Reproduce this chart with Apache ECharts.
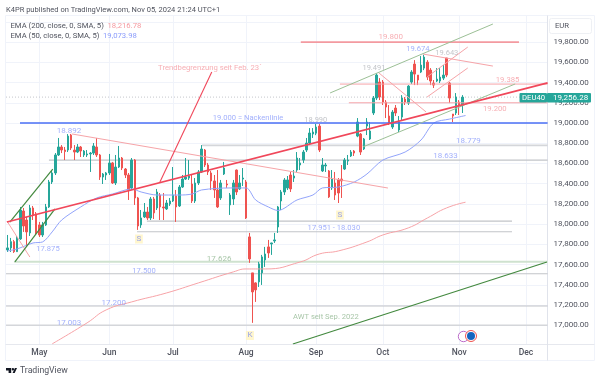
<!DOCTYPE html>
<html><head><meta charset="utf-8">
<style>html,body{margin:0;padding:0;background:#fff}#c{width:600px;height:381px;filter:blur(0.3px)}</style>
<script src="https://cdn.jsdelivr.net/npm/echarts@6/dist/echarts.min.js"></script>
</head><body><div id="c"></div>
<script>
// [open, close, low, high] daily candles
const candles = [
[17745,17765,17725,17893],[17765,17827,17725,17864],[17827,17728,17715,17844],[17728,17864,17725,17883],[17854,18140,17844,18170],
[18130,17982,17923,18160],[18041,17923,17775,18071],[17913,18160,17883,18190],[18160,18091,18041,18180],[18101,17913,17893,18120],
[17992,17893,17873,18022],[17893,17992,17873,18022],[17992,18170,17982,18200],[18170,18417,18160,18437],[18417,18506,18397,18526],
[18506,18684,18486,18703],[18684,18763,18674,18852],[18763,18733,18703,18782],[18733,18718,18634,18763],[18733,18871,18713,18891],
[18881,18753,18733,18892],[18733,18713,18634,18782],[18713,18763,18703,18792],[18763,18723,18664,18773],[18684,18723,18664,18733],
[18684,18694,18664,18733],[18694,18703,18516,18713],[18703,18773,18684,18802],[18763,18684,18664,18852],[18684,18466,18437,18694],
[18466,18496,18397,18506],[18486,18506,18437,18516],[18506,18605,18486,18694],[18605,18407,18397,18615],[18407,18565,18387,18684],
[18565,18654,18555,18773],[18654,18555,18535,18664],[18545,18486,18456,18555],[18486,18338,18239,18506],[18358,18634,18338,18654],
[18634,18259,18190,18644],[18259,17982,17943,18269],[17992,18061,17963,18140],[18071,18120,18061,18209],[18120,18061,18041,18170],
[18061,18249,18041,18269],[18249,18111,18051,18269],[18160,18318,18140,18348],[18288,18170,18041,18308],[18170,18160,18041,18308],
[18150,18209,18140,18239],[18200,18229,18180,18259],[18229,18288,18219,18565],[18279,18170,18022,18338],[18180,18367,18170,18387],
[18367,18446,18358,18486],[18446,18466,18437,18654],[18456,18476,18437,18634],[18397,18229,18209,18486],[18229,18407,18209,18456],
[18407,18516,18387,18535],[18516,18743,18506,18782],[18733,18585,18565,18743],[18585,18516,18486,18605],[18506,18427,18338,18526],
[18427,18338,18259,18486],[18338,18170,18160,18535],[18259,18407,18239,18437],[18496,18555,18486,18615],[18397,18387,18358,18437],
[18190,18288,18091,18308],[18249,18407,18190,18437],[18535,18318,18288,18540],[18348,18407,18338,18486],[18446,18456,18377,18555],
[18417,18061,18051,18437],[17874,17656,17617,17913],[17518,17330,17024,17518],[17419,17350,17231,17425],[17429,17607,17379,17627],
[17518,17676,17399,17696],[17646,17705,17577,17775],[17775,17715,17666,17844],[17804,17814,17696,17816],[17834,17844,17814,17913],
[17972,18170,17913,18180],[18229,18318,18140,18338],[18318,18437,18288,18456],[18358,18437,18338,18476],[18486,18348,18318,18516],
[18456,18476,18417,18535],[18535,18654,18516,18713],[18585,18605,18535,18654],[18634,18713,18605,18733],[18733,18802,18713,18852],
[18802,18901,18782,18950],[18891,18911,18852,18950],[18900,18960,18880,18990],[18970,18733,18713,18990],[18526,18585,18516,18654],
[18575,18585,18516,18605],[18526,18269,18259,18535],[18358,18446,18338,18535],[18407,18288,18239,18516],[18437,18308,18209,18456],
[18446,18427,18259,18585],[18545,18634,18535,18654],[18624,18634,18585,18684],[18674,18713,18664,18733],[18723,18703,18674,18733],
[18871,19010,18860,19049],[18891,18713,18684,18901],[18743,18842,18733,18852],[18970,19010,18881,19049],[18842,18921,18832,19010],
[19099,19247,19079,19267],[19247,19474,19227,19491],[19405,19257,19227,19444],[19405,19207,19178,19425],[19207,19158,19049,19227],
[19069,19000,18980,19178],[18960,19108,18941,19128],[19148,19099,19069,19178],[18931,19010,18911,19069],[19059,19247,19029,19276],
[19237,19207,19178,19257],[19197,19365,19178,19375],[19405,19504,19385,19523],[19583,19484,19375,19622],[19474,19425,19375,19474],
[19504,19573,19494,19662],[19543,19652,19523,19674],[19602,19454,19425,19622],[19523,19415,19375,19543],[19395,19375,19346,19425],
[19415,19434,19405,19543],[19415,19454,19395,19543],[19444,19474,19425,19573],[19643,19474,19454,19643],[19395,19247,19197,19405],
[19089,19069,19010,19089],[19099,19257,19079,19296],[19207,19168,19079,19227],[19178,19256,19099,19276]
];
// moving averages as [bar index, price]
const ema50 = [[0,17735],[3,17755],[8,17814],[11,17824],[14,17923],[17,18041],[23,18170],[28,18259],[33,18298],[39,18348],[42,18318],[47,18288],[54,18288],[58,18298],[61,18338],[70,18358],[75,18358],[78,18239],[82,18170],[85,18135],[91,18239],[96,18288],[99,18358],[104,18367],[109,18417],[113,18496],[118,18634],[125,18713],[130,18832],[134,19000],[139,19039],[144,19074]];
const ema200 = [[14,16816],[25,17024],[31,17152],[39,17231],[50,17320],[60,17419],[71,17528],[75,17557],[81,17557],[92,17626],[98,17705],[104,17735],[113,17824],[118,17893],[126,17963],[132,18061],[138,18160],[144,18217]];

const monthTicks = [10,32,52,75,97,118,142,163];
const monthNames = ['May','Jun','Jul','Aug','Sep','Oct','Nov','Dec'];
const priceTicks = [17000,17200,17400,17600,17800,18000,18200,18400,18600,18800,19000,19200,19400,19600,19800,20000];
const priceShown = priceTicks.slice(0,15);

// drawn lines as [bar1, price1, bar2, price2]
const neckline = [[3.9,19000,169.8,19000]];
const redTrend = [[-0.2,18021,169.8,19397]];
const redArrow = [[47.9,18417,64.2,19504]];
const pinkStrong = [[92.2,19800,160.8,19800]];
const pinkLines = [[20.2,18892,119.6,18357],[104.5,19385,169.8,19385],[107.3,19200,169.8,19200],[-0.2,18031,7,17675],[116.8,19494,131.6,19109],[130.6,19682,152.6,19563],[131.9,19257,144.7,19544],[131.9,19455,144.7,19751]];
const greyLevels = [[13,18633,169.8,18633],[43.8,18030,158.6,18030],[40.7,17925,158.6,17925],[-0.5,17510,169.8,17510],[-0.5,17190,169.8,17190]];
const greyPale = [[61.1,18779,169.8,18779],[-0.5,17000,169.8,17000]];
const greenPale = [[2,17629,169.8,17629]];
const greenDark = [[89.7,16815,169.6,17626],[0.7,18021,14.2,18545],[2.3,17626,14.9,18150]];
const greenSoft = [[101.4,19297,152.6,19979],[111.7,18763,159.6,19386]];
const lastPrice = [[-0.5,19256.28,169.8,19256.28]];

// notes as [bar, price, text]
const blueLarge = [[19.3,18931,'18.892'],[144.9,18837,'18.779'],[137.7,18684,'18.633'],[33.4,17235,'17.200'],[19.3,17042,'17.003']];
const blueSmall = [[75.6,19059,'19.000 = Nackenlinie'],[129,19741,'19.674'],[102.6,17977,'17.951 - 18.030'],[12.7,17769,'17.875'],[42.9,17547,'17.500']];
const pinkLarge = [[120.5,19870,'19.800']];
const pinkSmall = [[63.6,19554,'Trendbegrenzung seit Feb. 23´'],[157.2,19435,'19.385'],[153.2,19148,'19.200']];
const greyNotes = [[138.1,19702,'19.643'],[115.2,19554,'19.491'],[96.9,19044,'18.990']];
const greenLarge = [[66.5,17675,'17.626']];
const greenSmall = [[100.1,17097,'AWT seit Sep. 2022']];
const tagNotes = [[41.3,17863,'S'],[104.5,18100,'S'],[76.2,16909,'K']];

const titleText = 'K4PR published on TradingView.com, Nov 05, 2024 21:24 UTC+1';
const ema200Name = 'EMA (200, close, 0, SMA, 5)', ema200Last = '18,216.78';
const ema50Name = 'EMA (50, close, 0, SMA, 5)', ema50Last = '19,073.98';
const symbol = 'DEU40', lastText = '19,256.28', currency = 'EUR', brand = 'TradingView';

const FONT = 'Roboto, sans-serif';
const UP = '#26a69a', DOWN = '#ef5350';
const BLUE = '#8b9cfb', PINK = '#f59aa0', GREY = '#b4b7bc', GREEN = '#92b892';

const series = [];
function addLines(list, color, width, z, type){
  list.forEach(s => series.push({type:'line', data:[[s[0],s[1]],[s[2],s[3]]], symbol:'none', silent:true, z,
    lineStyle:{color, width, type:type||'solid'}, animation:false}));
}
function addNotes(list, color, size){
  series.push({type:'scatter', data:list, symbolSize:0, silent:true, z:9, animation:false,
    label:{show:true, position:'inside', offset:[0,1.5], color, fontFamily:FONT, fontSize:size, formatter:p=>p.data[2]}});
}
addLines(lastPrice,'#c4c7cc',1,2,[1,2]);
addLines(greyPale,'#d4d6da',1.6,2);
addLines(greyLevels,'#c2c4c8',1.1,2);
addLines(greenPale,'#cfe2cf',2,2);
series.push({type:'candlestick', data:candles.map((c,i)=>[i,c[0],c[1],c[2],c[3]]), encode:{x:0,y:[1,2,3,4]},
  barWidth:2, z:3, silent:true, animation:false, clip:true,
  itemStyle:{color:UP,color0:DOWN,borderColor:UP,borderColor0:DOWN,borderWidth:1}});
series.push({type:'line',data:ema50,smooth:0.3,symbol:'none',silent:true,z:4,animation:false,lineStyle:{color:'#92a4fb',width:1}});
series.push({type:'line',data:ema200,smooth:0.5,symbol:'none',silent:true,z:4,animation:false,lineStyle:{color:'#f7a3a7',width:1}});
addLines(neckline,'#4a6ff5',1.6,5);
addLines(pinkStrong,'#f39aa0',1.7,5);
addLines(pinkLines,'#f6a4a8',1,5);
addLines(redTrend,'#f0475a',1.7,6);
addLines(redArrow,'#f0475a',1.1,6);
addLines(greenDark,'#43893f',1.2,5);
addLines(greenSoft,'#9cc096',1,5);
addNotes(blueLarge,BLUE,8);
addNotes(blueSmall,BLUE,7.6);
addNotes(pinkLarge,PINK,8);
addNotes(pinkSmall,PINK,7.7);
addNotes(greyNotes,GREY,7.5);
addNotes(greenLarge,GREEN,8);
addNotes(greenSmall,GREEN,7.6);
series.push({type:'scatter',data:tagNotes,symbolSize:0,silent:true,z:9,animation:false,
  label:{show:true,position:'inside',offset:[0,1],color:'#7f8ff0',fontFamily:FONT,fontSize:8,backgroundColor:'#fff4c2',padding:[1,1.5,0,1.5],formatter:p=>p.data[2]}});

const T = (x,y,text,fill,size,extra) => ({type:'text',x,y,silent:true,z:20,style:Object.assign({text,fill,fontFamily:FONT,fontSize:size,textVerticalAlign:'middle'},extra||{})});
const L = (x1,y1,x2,y2,stroke) => ({type:'line',silent:true,z:1,shape:{x1,y1,x2,y2},style:{stroke,lineWidth:1}});

const chart = echarts.init(document.getElementById('c'),null,{renderer:'canvas'});
chart.setOption({
  animation:false, backgroundColor:'#fff',
  grid:{left:6,right:52.4,top:15,height:329,containLabel:false},
  xAxis:{type:'value',min:-0.5,max:169.8,
    axisLine:{show:false},
    axisTick:{show:false,customValues:monthTicks},
    splitLine:{show:true,lineStyle:{color:'#f0f3fa',width:1}},
    axisLabel:{show:true,customValues:monthTicks,color:'#50535e',fontFamily:FONT,fontSize:8.5,fontWeight:500,margin:4,
      formatter:v=>monthNames[monthTicks.indexOf(v)]||''}},
  yAxis:{type:'value',position:'right',min:16815,max:20068,
    axisLine:{show:false},
    axisTick:{show:false,customValues:priceTicks},
    splitLine:{show:true,lineStyle:{color:'#f0f3fa',width:1}},
    axisLabel:{show:true,customValues:priceShown,color:'#50535e',fontFamily:FONT,fontSize:8,margin:6,
      formatter:v=>v.toLocaleString('en-US',{minimumFractionDigits:2})}},
  series,
  graphic:[
    L(5.5,15.5,594.5,15.5,'#f0f3fa'),L(5.5,15.5,5.5,360.5,'#f0f3fa'),L(594.5,15.5,594.5,360.5,'#f0f3fa'),L(5.5,360.5,594.5,360.5,'#f0f3fa'),
    L(5.5,344.5,594.5,344.5,'#e6e8ee'),L(547.5,15.5,547.5,360.5,'#e0e3eb'),
    T(6,10.5,titleText,'#50535e',7.5),
    T(10.5,26,ema200Name,'#50535e',7.7),T(107.5,26,ema200Last,'#f59aa0',7.7),
    T(10.5,36,ema50Name,'#50535e',7.7),T(103,36,ema50Last,'#8b9cfb',7.7),
    {type:'rect',silent:true,z:15,shape:{x:549.5,y:18.5,width:42,height:15,r:2},style:{fill:'#fff',stroke:'#eef0f4',lineWidth:1}},
    T(555,26,currency,'#50535e',7.7),
    {type:'rect',silent:true,z:15,shape:{x:519.5,y:93,width:27.5,height:9.5,r:1},style:{fill:'#26a69a'}},
    {type:'rect',silent:true,z:15,shape:{x:547,y:93,width:44,height:9.5,r:1},style:{fill:'#26a69a'}},
    T(522,98,symbol,'#fff',7.7),T(553,98,lastText,'#fff',8),
    {type:'circle',silent:true,z:15,shape:{cx:463.5,cy:336.5,r:5.2},style:{fill:'#fff',stroke:'#ab47bc',lineWidth:0.8}},
    {type:'circle',silent:true,z:16,shape:{cx:471,cy:336,r:5.5},style:{fill:'#fff',stroke:'#ef5350',lineWidth:1}},
    {type:'circle',silent:true,z:17,shape:{cx:471,cy:336,r:4},style:{fill:'#1565c0'}},
    {type:'polygon',silent:true,z:20,shape:{points:[[6,368],[11.2,368],[11.2,373],[8.6,373],[8.6,370.4],[6,370.4]]},style:{fill:'#131722'}},
    {type:'circle',silent:true,z:20,shape:{cx:12.9,cy:369.2,r:1.2},style:{fill:'#131722'}},
    {type:'polygon',silent:true,z:20,shape:{points:[[12.6,373],[14.9,368],[17,368],[14.7,373]]},style:{fill:'#131722'}},
    T(20,370.5,brand,'#50535e',8.7)
  ]
});
</script></body></html>
